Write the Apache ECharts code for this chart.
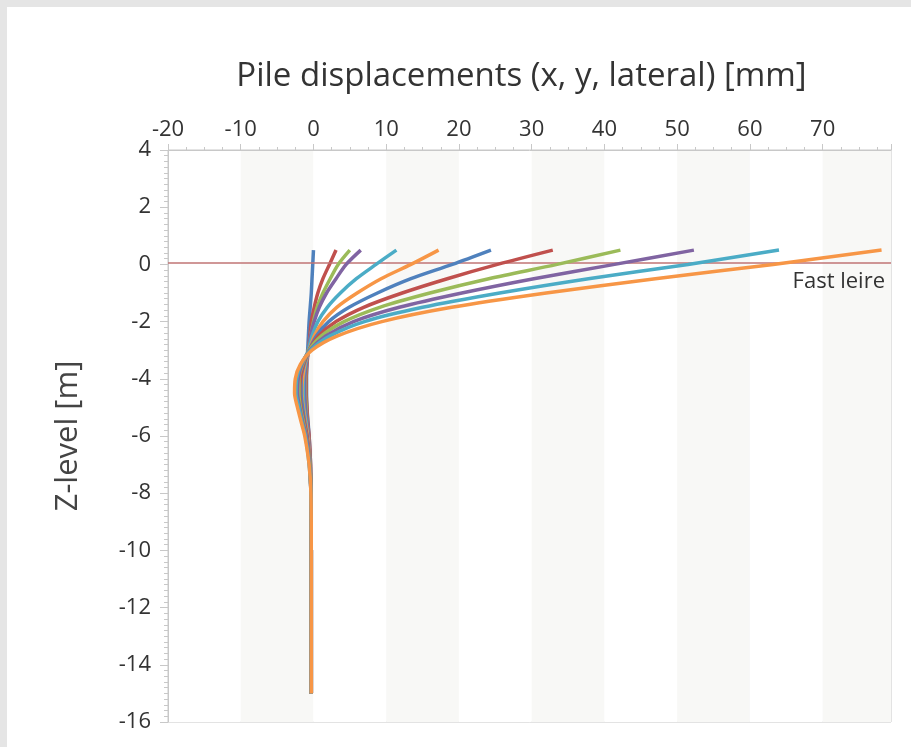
<!DOCTYPE html>
<html>
<head>
<meta charset="utf-8">
<script src="https://cdn.jsdelivr.net/npm/echarts@6/dist/echarts.min.js"></script>
<style>
    html, body { margin: 0; padding: 0; background: #e5e5e5; }
    .panel { position: absolute; left: 7px; top: 7px; width: 904px; height: 740px; background: #fff; }
    #chart { position: absolute; left: 0; top: 0; width: 911px; height: 747px; }
</style>
</head>
<body>
<div class="panel"></div>
<div id="chart"></div>
<script>
// 深度 (m)
const zLevels = [0.5, 0, -0.5, -1, -1.5, -2, -2.5, -3, -3.5, -4, -4.5, -5, -5.5, -6, -7, -8, -10, -12, -15]

// 各荷载步的位移 (mm)
const curve1 = [0.0, -0.1, -0.2, -0.3, -0.45, -0.6, -0.7, -0.8, -0.9, -0.95, -0.95, -0.9, -0.75, -0.6, -0.4, -0.35, -0.3, -0.3, -0.3]
const curve2 = [3.1, 2.2, 1.3, 0.6, 0.1, -0.3, -0.5, -0.7, -0.9, -1.0, -1.0, -0.9, -0.8, -0.6, -0.4, -0.35, -0.3, -0.3, -0.3]
const curve3 = [5.0, 3.4, 2.3, 1.3, 0.5, 0.0, -0.4, -0.7, -1.0, -1.1, -1.1, -1.0, -0.9, -0.7, -0.45, -0.35, -0.3, -0.3, -0.3]
const curve4 = [6.5, 4.5, 3.1, 1.8, 0.8, 0.1, -0.4, -0.7, -1.0, -1.2, -1.2, -1.1, -0.9, -0.7, -0.45, -0.35, -0.3, -0.3, -0.3]
const curve5 = [11.4, 8.6, 5.9, 3.7, 1.9, 0.6, -0.2, -0.7, -1.1, -1.4, -1.4, -1.3, -1.0, -0.8, -0.5, -0.35, -0.3, -0.3, -0.3]
const curve6 = [17.2, 13.4, 9.3, 6.0, 3.2, 1.3, 0.1, -0.6, -1.2, -1.5, -1.6, -1.4, -1.1, -0.8, -0.5, -0.35, -0.3, -0.3, -0.3]
const curve7 = [24.4, 19.1, 13.4, 8.8, 4.9, 2.1, 0.4, -0.6, -1.3, -1.7, -1.7, -1.5, -1.2, -0.9, -0.5, -0.35, -0.3, -0.3, -0.3]
const curve8 = [32.9, 25.3, 18.4, 12.2, 6.9, 3.1, 0.7, -0.6, -1.4, -1.8, -1.9, -1.7, -1.3, -0.9, -0.5, -0.35, -0.3, -0.3, -0.3]
const curve9 = [42.2, 33.5, 24.1, 16.0, 9.1, 4.2, 1.1, -0.6, -1.5, -2.0, -2.0, -1.8, -1.4, -1.0, -0.5, -0.35, -0.3, -0.3, -0.3]
const curve10 = [52.3, 41.4, 30.3, 20.4, 11.8, 5.5, 1.7, -0.5, -1.6, -2.1, -2.2, -1.9, -1.5, -1.0, -0.55, -0.35, -0.3, -0.3, -0.3]
const curve11 = [64.0, 51.5, 37.8, 25.6, 15.0, 7.0, 2.3, -0.4, -1.7, -2.3, -2.4, -2.0, -1.6, -1.1, -0.6, -0.35, -0.3, -0.3, -0.3]
const curve12 = [78.1, 63.2, 47.0, 32.0, 19.0, 9.4, 3.3, -0.2, -1.8, -2.5, -2.6, -2.2, -1.7, -1.2, -0.6, -0.35, -0.3, -0.3, -0.3]

const curves = [curve1, curve2, curve3, curve4, curve5, curve6, curve7, curve8, curve9, curve10, curve11, curve12]
const colors = ['#4f81bd', '#c0504d', '#9bbb59', '#8064a2', '#4bacc6', '#f79646']

const font = '"Open Sans", "Noto Sans", sans-serif'
const axisColor = '#c8c8c8'

const chart = echarts.init(document.getElementById('chart'))

const series = curves.map((c, i) => {
    return {
        type: 'line',
        data: c.map((x, k) => [x, zLevels[k]]),
        showSymbol: false,
        smooth: 0.3,
        lineStyle: { width: 3.5, color: colors[i % 6] },
        itemStyle: { color: colors[i % 6] },
        z: 3 + i
    }
})

// 土层线
series.push({
    type: 'line',
    data: [],
    color: '#c07575',
    markLine: {
        silent: true,
        symbol: 'none',
        animation: false,
        lineStyle: { color: '#c07575', type: 'solid', width: 1.5, opacity: 1 },
        label: {
            formatter: 'Fast leire',
            position: 'insideEndBottom',
            color: '#333',
            fontFamily: font,
            fontSize: 22,
            distance: [6, 8]
        },
        data: [{ yAxis: 0.05 }]
    },
    z: 2
})

const option = {
    animation: false,
    grid: {
        left: 168,
        top: 150,
        right: 20,
        bottom: 25,
        show: true,
        borderColor: axisColor,
        borderWidth: 1,
        backgroundColor: 'transparent'
    },
    xAxis: {
        type: 'value',
        position: 'top',
        min: -20,
        max: 79.4,
        interval: 10,
        name: 'Pile displacements (x, y, lateral) [mm]',
        nameLocation: 'middle',
        nameGap: 57,
        nameTextStyle: { color: '#333', fontFamily: font, fontSize: 33, padding: [0, 16, 0, 0] },
        axisLine: { show: true, onZero: false, lineStyle: { color: axisColor } },
        axisTick: { show: true, length: 6, lineStyle: { color: axisColor } },
        minorTick: { show: true, splitNumber: 4, length: 3, lineStyle: { color: axisColor } },
        axisLabel: { color: '#333', fontFamily: font, fontSize: 22, margin: 9, showMaxLabel: false },
        splitLine: { show: false },
        splitArea: { show: true, areaStyle: { color: ['#ffffff', '#f8f8f6'] } }
    },
    yAxis: {
        type: 'value',
        min: -16,
        max: 4,
        interval: 2,
        name: 'Z-level [m]',
        nameLocation: 'middle',
        nameRotate: 90,
        nameGap: 84,
        nameTextStyle: { color: '#444', fontFamily: font, fontSize: 31 },
        axisLine: { show: true, onZero: false, lineStyle: { color: axisColor } },
        axisTick: { show: true, length: 8, lineStyle: { color: axisColor } },
        minorTick: { show: true, splitNumber: 10, length: 4, lineStyle: { color: axisColor } },
        axisLabel: { color: '#333', fontFamily: font, fontSize: 22, margin: 17 },
        splitLine: { show: false }
    },
    series: series
}

chart.setOption(option)
window.addEventListener('resize', () => {
    chart.resize()
})
</script>
</body>
</html>
